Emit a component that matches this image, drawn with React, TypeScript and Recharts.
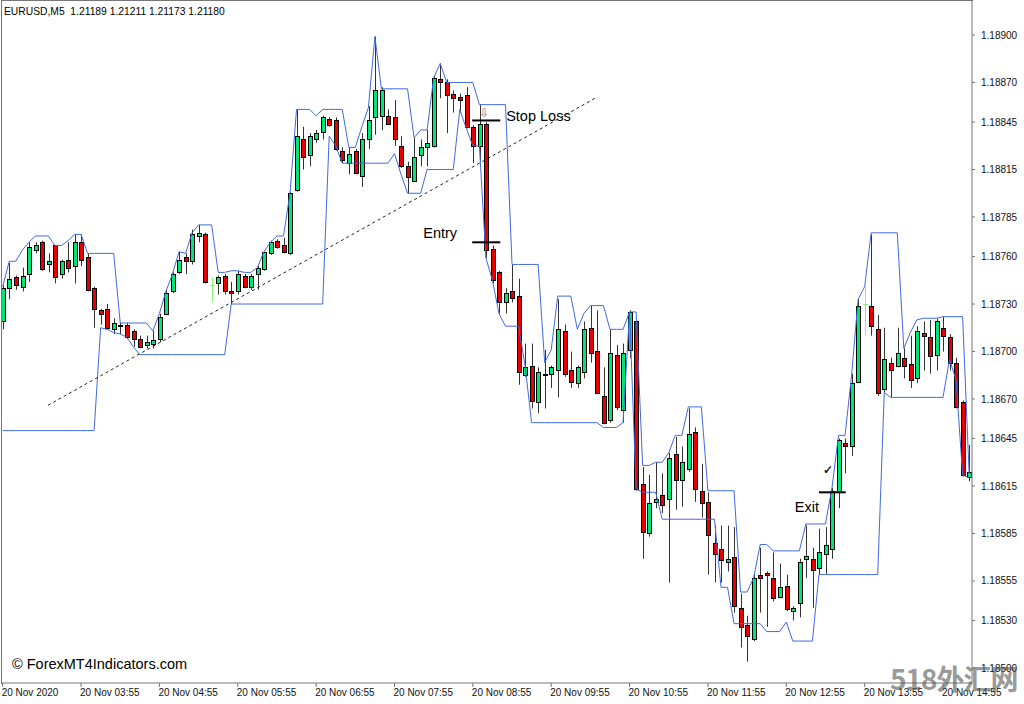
import React from "react";
import { ComposedChart, Bar, Line, XAxis, YAxis, ReferenceLine, ReferenceDot } from "recharts";

const openP = [
  1.18719, 1.1874, 1.18747, 1.18741, 1.18749, 1.18764, 1.18769, 1.18755, 1.18767, 1.18749,
  1.18758, 1.18754, 1.18769, 1.1876, 1.1874, 1.18726, 1.18727, 1.18714, 1.18717, 1.18717,
  1.18713, 1.18708, 1.18704, 1.18705, 1.18708, 1.18724, 1.18738, 1.1875, 1.1876, 1.18757,
  1.18773, 1.18774, 1.18742, 1.18743, 1.18748, 1.18738, 1.18738, 1.18748, 1.18741, 1.18749,
  1.18752, 1.18762, 1.1877, 1.18767, 1.18762, 1.18802, 1.18834, 1.18824, 1.18834, 1.18839,
  1.18847, 1.18846, 1.18827, 1.18819, 1.18827, 1.18811, 1.18834, 1.18848, 1.18849, 1.18849,
  1.18848, 1.1883, 1.18817, 1.18808, 1.18824, 1.18829, 1.1883, 1.18872, 1.1887, 1.18863,
  1.18861, 1.18862, 1.18842, 1.1883, 1.18844, 1.18765, 1.1875, 1.18731, 1.18738, 1.18735,
  1.18685, 1.18691, 1.18668, 1.18686, 1.18686, 1.18688, 1.18713, 1.18688, 1.1868, 1.18687,
  1.18715, 1.187, 1.18672, 1.18657, 1.18698, 1.18663, 1.18701, 1.18719, 1.18616, 1.18585,
  1.18605, 1.18609, 1.18607, 1.18635, 1.18619, 1.18626, 1.18649, 1.18612, 1.18605, 1.18579,
  1.18575, 1.18567, 1.1857, 1.18538, 1.18527, 1.18518, 1.18559, 1.1856, 1.18557, 1.18545,
  1.18552, 1.18536, 1.18541, 1.18569, 1.18569, 1.18563, 1.18572, 1.18575, 1.18611, 1.18642,
  1.1864, 1.18681, 1.1873, 1.18729, 1.18714, 1.18676, 1.18693, 1.18691, 1.18696, 1.18692,
  1.18683, 1.18712, 1.18709, 1.18698, 1.18715, 1.18709, 1.18693, 1.18668, 1.18621,
];

const highP = [
  1.18742, 1.18756, 1.18748, 1.18753, 1.18769, 1.18769, 1.1877, 1.18762, 1.18767, 1.18758,
  1.18769, 1.18774, 1.18774, 1.18762, 1.18741, 1.18727, 1.1873, 1.18721, 1.18718, 1.18718,
  1.18714, 1.1871, 1.1871, 1.18713, 1.18724, 1.18739, 1.1875, 1.18763, 1.18762, 1.18777,
  1.1878, 1.18775, 1.18747, 1.18748, 1.18749, 1.18744, 1.18751, 1.18749, 1.18749, 1.18754,
  1.18763, 1.1877, 1.18771, 1.18772, 1.18801, 1.18853, 1.18842, 1.18838, 1.1884, 1.18849,
  1.18848, 1.18848, 1.18829, 1.18829, 1.18828, 1.18838, 1.18855, 1.18899, 1.18867, 1.18853,
  1.18859, 1.18836, 1.1882, 1.18835, 1.18834, 1.1884, 1.18874, 1.18882, 1.18872, 1.18865,
  1.18863, 1.18867, 1.18843, 1.18856, 1.18845, 1.18767, 1.18751, 1.1874, 1.18755, 1.18746,
  1.18705, 1.18705, 1.1869, 1.18701, 1.18691, 1.18733, 1.18717, 1.187, 1.18691, 1.18719,
  1.18729, 1.18726, 1.1869, 1.18714, 1.18704, 1.18705, 1.18726, 1.1872, 1.18627, 1.18622,
  1.1863, 1.18623, 1.18636, 1.18646, 1.1864, 1.18664, 1.18652, 1.18629, 1.18611, 1.1859,
  1.1859, 1.1859, 1.18589, 1.18547, 1.18533, 1.18559, 1.18576, 1.18561, 1.18573, 1.18566,
  1.18559, 1.18539, 1.18569, 1.1859, 1.18576, 1.18588, 1.18589, 1.18614, 1.18645, 1.18645,
  1.18686, 1.18733, 1.18741, 1.18774, 1.18723, 1.18715, 1.18696, 1.18715, 1.18702, 1.1871,
  1.18716, 1.18719, 1.1872, 1.18721, 1.18722, 1.18711, 1.18696, 1.18669, 1.18641,
];

const lowP = [
  1.18714, 1.18733, 1.18739, 1.18738, 1.18744, 1.18762, 1.18751, 1.1875, 1.18743, 1.18746,
  1.1875, 1.18743, 1.18754, 1.18738, 1.18715, 1.18717, 1.18714, 1.18711, 1.18711, 1.18708,
  1.18703, 1.18702, 1.18702, 1.18702, 1.18706, 1.18723, 1.18737, 1.18749, 1.18749, 1.18755,
  1.18769, 1.18743, 1.18731, 1.18736, 1.18736, 1.1873, 1.18736, 1.1874, 1.18739, 1.18739,
  1.18751, 1.18761, 1.18765, 1.18762, 1.18761, 1.18801, 1.18815, 1.18817, 1.18832, 1.18834,
  1.18842, 1.18827, 1.18819, 1.18812, 1.18812, 1.18804, 1.18828, 1.18837, 1.1884, 1.18843,
  1.1883, 1.18816, 1.188, 1.18807, 1.18817, 1.18817, 1.18829, 1.1886, 1.18838, 1.18851,
  1.18851, 1.18841, 1.18819, 1.1882, 1.18759, 1.18743, 1.18724, 1.18724, 1.18731, 1.18679,
  1.18684, 1.18664, 1.18661, 1.18664, 1.18677, 1.18671, 1.18684, 1.18677, 1.18677, 1.18683,
  1.18693, 1.18673, 1.18654, 1.18655, 1.18663, 1.18655, 1.18696, 1.18612, 1.18569, 1.18583,
  1.18601, 1.18598, 1.18554, 1.186, 1.18602, 1.18624, 1.18605, 1.18595, 1.18559, 1.18554,
  1.18554, 1.18561, 1.18535, 1.18513, 1.18504, 1.18517, 1.18535, 1.18526, 1.18542, 1.18544,
  1.18536, 1.1853, 1.18532, 1.18557, 1.18538, 1.18559, 1.18559, 1.18569, 1.18601, 1.18623,
  1.18634, 1.1868, 1.1871, 1.1871, 1.18672, 1.18674, 1.18671, 1.1869, 1.18683, 1.18677,
  1.1868, 1.18688, 1.18686, 1.18688, 1.187, 1.18688, 1.18664, 1.18621, 1.18618,
];

const closeP = [
  1.1874, 1.18746, 1.18742, 1.18748, 1.18766, 1.18767, 1.18752, 1.18757, 1.18747, 1.18757,
  1.18753, 1.18769, 1.18758, 1.18739, 1.18727, 1.18724, 1.18715, 1.18718, 1.18716, 1.18709,
  1.18708, 1.18703, 1.18706, 1.18707, 1.18722, 1.18737, 1.18749, 1.18758, 1.18757, 1.18774,
  1.18775, 1.18744, 1.18742, 1.18747, 1.18738, 1.18737, 1.18749, 1.18741, 1.18748, 1.18753,
  1.18763, 1.18769, 1.18766, 1.18763, 1.188, 1.18836, 1.18823, 1.18836, 1.18838, 1.18848,
  1.18843, 1.18828, 1.18821, 1.18825, 1.18813, 1.18834, 1.18846, 1.18865, 1.18865, 1.18844,
  1.18834, 1.18817, 1.1881, 1.18823, 1.18829, 1.18832, 1.18873, 1.1887, 1.18862, 1.1886,
  1.18859, 1.18842, 1.1883, 1.18844, 1.18764, 1.18745, 1.18731, 1.18737, 1.18734, 1.18687,
  1.1869, 1.18669, 1.18687, 1.18685, 1.1869, 1.18714, 1.18686, 1.18681, 1.1869, 1.18714,
  1.18699, 1.18674, 1.18655, 1.18699, 1.18665, 1.18699, 1.18725, 1.18613, 1.18586, 1.18604,
  1.18607, 1.18603, 1.18633, 1.18619, 1.1863, 1.18648, 1.18613, 1.18604, 1.18584, 1.18572,
  1.18568, 1.18569, 1.18539, 1.18526, 1.1852, 1.18557, 1.18557, 1.18559, 1.18544, 1.18551,
  1.18537, 1.18538, 1.18567, 1.18571, 1.18562, 1.18573, 1.18578, 1.18612, 1.18644, 1.1864,
  1.1868, 1.18729, 1.1873, 1.18716, 1.18674, 1.18695, 1.18688, 1.18699, 1.18691, 1.18682,
  1.18713, 1.1871, 1.18697, 1.18719, 1.1871, 1.18693, 1.18665, 1.18622, 1.18624,
];

const upperBand = [
  1.18741, 1.18757, 1.18757, 1.18764, 1.18769, 1.18773, 1.18773, 1.18773, 1.18767, 1.18767,
  1.1877, 1.18774, 1.18774, 1.18762, 1.18762, 1.18762, 1.18762, 1.18762, 1.18718, 1.18718,
  1.18718, 1.18718, 1.18718, 1.18713, 1.18724, 1.18738, 1.18749, 1.18763, 1.18762, 1.18775,
  1.1878, 1.1878, 1.1878, 1.1875, 1.1875, 1.18751, 1.18751, 1.1875, 1.1875, 1.18753,
  1.18763, 1.18769, 1.18773, 1.18773, 1.188, 1.18853, 1.18853, 1.18853, 1.18849, 1.18853,
  1.18853, 1.18853, 1.18853, 1.18829, 1.18829, 1.18842, 1.18854, 1.18899, 1.18866, 1.18866,
  1.18866, 1.18866, 1.18866, 1.18835, 1.1884, 1.1884, 1.18873, 1.18882, 1.1887, 1.1887,
  1.1887, 1.1887, 1.1887, 1.18856, 1.18856, 1.18856, 1.18856, 1.18856, 1.18755, 1.18755,
  1.18755, 1.18755, 1.18755, 1.18693, 1.18701, 1.18735, 1.18735, 1.18735, 1.18714, 1.18724,
  1.18729, 1.18729, 1.18729, 1.18714, 1.18714, 1.18714, 1.18725, 1.18725, 1.18628, 1.18628,
  1.1863, 1.1863, 1.18636, 1.18647, 1.18647, 1.18665, 1.18665, 1.18665, 1.18612, 1.18612,
  1.18612, 1.18612, 1.18612, 1.18548, 1.18548, 1.18557, 1.18578, 1.18578, 1.18574, 1.18574,
  1.18574, 1.18574, 1.18574, 1.18591, 1.18591, 1.18591, 1.18591, 1.18614, 1.18647, 1.18647,
  1.18685, 1.18733, 1.18741, 1.18775, 1.18775, 1.18775, 1.18775, 1.18775, 1.18702, 1.18712,
  1.1872, 1.18721, 1.18721, 1.18721, 1.18722, 1.18722, 1.18722, 1.18722, 1.18623,
];

const lowerBand = [
  1.1865, 1.1865, 1.1865, 1.1865, 1.1865, 1.1865, 1.1865, 1.1865, 1.1865, 1.1865,
  1.1865, 1.1865, 1.1865, 1.1865, 1.1865, 1.18715, 1.18714, 1.18712, 1.18711, 1.18709,
  1.18703, 1.18698, 1.18698, 1.18698, 1.18698, 1.18698, 1.18698, 1.18698, 1.18698, 1.18698,
  1.18698, 1.18698, 1.18698, 1.18698, 1.18698, 1.1873, 1.1873, 1.1873, 1.1873, 1.1873,
  1.1873, 1.1873, 1.1873, 1.1873, 1.1873, 1.1873, 1.1873, 1.1873, 1.1873, 1.1873,
  1.18836, 1.1883, 1.18819, 1.18819, 1.18819, 1.18819, 1.18819, 1.18819, 1.18819, 1.18819,
  1.18825, 1.18812, 1.188, 1.188, 1.188, 1.18815, 1.18815, 1.18815, 1.18815, 1.18815,
  1.18853, 1.18841, 1.1883, 1.1883, 1.18759, 1.18745, 1.18724, 1.18716, 1.18716, 1.18716,
  1.18691, 1.18655, 1.18655, 1.18655, 1.18655, 1.18655, 1.18655, 1.18655, 1.18655, 1.18655,
  1.18655, 1.18655, 1.18652, 1.18652, 1.18652, 1.18655, 1.18725, 1.18613, 1.18611, 1.18611,
  1.18611, 1.18594, 1.18594, 1.18594, 1.18594, 1.18594, 1.18594, 1.18594, 1.18594, 1.18594,
  1.18551, 1.18551, 1.18528, 1.18528, 1.18528, 1.18528, 1.18528, 1.18523, 1.18523, 1.18523,
  1.18529, 1.18517, 1.18517, 1.18517, 1.18517, 1.18559, 1.18559, 1.18559, 1.18559, 1.18559,
  1.18559, 1.18559, 1.18559, 1.18559, 1.18559, 1.18674, 1.18671, 1.18671, 1.18671, 1.18671,
  1.18671, 1.18671, 1.18671, 1.18671, 1.18671, 1.18695, 1.18682, 1.18622, 1.1862,
];

const timeTickBars = [0, 12, 24, 36, 48, 60, 72, 84, 96, 108, 120, 132, 144];
const timeTickLabels = [
  "20 Nov 2020", "20 Nov 03:55", "20 Nov 04:55", "20 Nov 05:55", "20 Nov 06:55",
  "20 Nov 07:55", "20 Nov 08:55", "20 Nov 09:55", "20 Nov 10:55", "20 Nov 11:55",
  "20 Nov 12:55", "20 Nov 13:55", "20 Nov 14:55",
];
const priceTicks = [
  1.189, 1.1887, 1.18845, 1.18815, 1.18785, 1.1876, 1.1873, 1.187,
  1.1867, 1.18645, 1.18615, 1.18585, 1.18555, 1.1853, 1.185,
];

const trendLine = [
  { bar: 6.94, price: 1.18666 },
  { bar: 90.7, price: 1.1886 },
];
const stopLossLevel = { from: 71.9, to: 76.2, price: 1.18846 };
const entryLevel = { from: 71.9, to: 76.2, price: 1.18769 };
const exitLevel = { from: 125.0, to: 129.1, price: 1.18611 };

const annotations = [
  { text: "Stop Loss", bar: 77.1, price: 1.18849 },
  { text: "Entry", bar: 64.4, price: 1.18775 },
  { text: "Exit", bar: 121.3, price: 1.18602 },
];
const stopArrow = { bar: 73.7, price: 1.18851 };
const exitCheck = { bar: 126.4, price: 1.18625 };

const data = openP.map((o, i) => ({
  i,
  o,
  h: highP[i],
  l: lowP[i],
  c: closeP[i],
  range: [lowP[i], highP[i]],
  up: upperBand[i],
  lo: lowerBand[i],
}));

const GREEN = "#00E676";
const RED = "#E60000";
const DOJI = "#7CFC6A";
const WICK = "#333333";
const BLUE = "#4169E1";
const FONT = "'Liberation Sans', Arial, sans-serif";

const Candle = (props: any) => {
  const { x, y, width, height, payload } = props;
  if (!payload) return null;
  const { o, h, l, c } = payload;
  const yTop = Math.min(y, y + height);
  const hgt = Math.abs(height);
  const cx = Math.round(x + width / 2);
  const span = h - l;
  const pix = (v: number) => (span === 0 ? yTop : yTop + ((h - v) / span) * hgt);
  if (o === c) {
    const yy = Math.round(pix(o)) + 0.5;
    return (
      <g>
        <line x1={cx + 0.5} x2={cx + 0.5} y1={yTop} y2={yTop + hgt} stroke={DOJI} strokeWidth={1} />
        <line x1={cx - 2} x2={cx + 3} y1={yy} y2={yy} stroke={DOJI} strokeWidth={1} />
      </g>
    );
  }
  const yo = pix(o);
  const yc = pix(c);
  const top = Math.round(Math.min(yo, yc)) + 0.5;
  const bot = Math.round(Math.max(yo, yc)) + 0.5;
  const fill = c > o ? GREEN : RED;
  return (
    <g>
      <line x1={cx + 0.5} x2={cx + 0.5} y1={yTop} y2={yTop + hgt} stroke={WICK} strokeWidth={1} />
      <rect
        x={cx - 1.5}
        y={top}
        width={4}
        height={Math.max(bot - top, 1)}
        fill={fill}
        stroke="#000"
        strokeWidth={1}
      />
    </g>
  );
};

const TimeTick = (props: any) => {
  const { x, y, payload } = props;
  const idx = timeTickBars.indexOf(payload.value);
  return (
    <text x={x - 1} y={y} dy="0.71em" textAnchor="start" fontSize={10} fontFamily={FONT} fill="#111">
      {idx >= 0 ? timeTickLabels[idx] : ""}
    </text>
  );
};

const textShape = (label: string, size: number, color: string, anchor: string, weight = 400) => (p: any) => (
  <text
    x={p.cx}
    y={p.cy}
    dominantBaseline="central"
    textAnchor={anchor}
    fontSize={size}
    fontWeight={weight}
    fontFamily={FONT}
    fill={color}
  >
    {label}
  </text>
);

export default function App() {
  return (
    <div style={{ position: "absolute", left: 0, top: 0, width: 1024, height: 704, background: "#fff", overflow: "hidden" }}>
      <ComposedChart
        width={1024}
        height={704}
        data={data}
        margin={{ top: 1, right: 0, left: 1, bottom: 0 }}
      >
        <XAxis
          dataKey="i"
          type="number"
          domain={[-0.26, 148.44]}
          ticks={timeTickBars}
          tick={<TimeTick />}
          tickSize={4}
          tickMargin={2}
          height={21}
          axisLine={{ stroke: "#777" }}
          tickLine={{ stroke: "#777" }}
          interval={0}
        />
        <YAxis
          orientation="right"
          type="number"
          domain={[1.184905, 1.189215]}
          ticks={priceTicks}
          interval={0}
          width={52}
          tickSize={3}
          tickMargin={6}
          tickFormatter={(v: number) => v.toFixed(5)}
          tick={{ fontSize: 10, fontFamily: FONT, fill: "#111" }}
          axisLine={{ stroke: "#777" }}
          tickLine={{ stroke: "#777" }}
        />
        <Bar dataKey="range" barSize={5} shape={<Candle />} isAnimationActive={false} />
        <Line type="linear" dataKey="up" stroke={BLUE} strokeWidth={1} dot={false} activeDot={false} isAnimationActive={false} />
        <Line type="linear" dataKey="lo" stroke={BLUE} strokeWidth={1} dot={false} activeDot={false} isAnimationActive={false} />
        <ReferenceLine
          segment={[
            { x: trendLine[0].bar, y: trendLine[0].price },
            { x: trendLine[1].bar, y: trendLine[1].price },
          ]}
          stroke="#222"
          strokeWidth={1}
          strokeDasharray="3 3"
        />
        {[stopLossLevel, entryLevel, exitLevel].map((lv, k) => (
          <ReferenceLine
            key={k}
            segment={[
              { x: lv.from, y: lv.price },
              { x: lv.to, y: lv.price },
            ]}
            stroke="#000"
            strokeWidth={2}
          />
        ))}
        {annotations.map((a, k) => (
          <ReferenceDot key={k} x={a.bar} y={a.price} r={0} shape={textShape(a.text, 14.5, "#000", "start")} />
        ))}
        <ReferenceDot x={stopArrow.bar} y={stopArrow.price} r={0} shape={textShape("⇩", 12, "#777", "middle")} />
        <ReferenceDot x={exitCheck.bar} y={exitCheck.price} r={0} shape={textShape("✓", 12, "#222", "middle", 700)} />
      </ComposedChart>
      <div style={{ position: "absolute", left: 1, top: 0, width: 1, height: 684, background: "#777" }} />
      <div style={{ position: "absolute", left: 1, top: 0, width: 972, height: 1, background: "#777" }} />
      <div style={{ position: "absolute", left: 4, top: 6, fontFamily: FONT, fontSize: 10.3, color: "#000", whiteSpace: "pre", lineHeight: "12px" }}>
        {"EURUSD,M5  1.21189 1.21211 1.21173 1.21180"}
      </div>
      <div style={{ position: "absolute", left: 12, top: 656, fontFamily: FONT, fontSize: 14.5, color: "#000", whiteSpace: "pre", lineHeight: "17px" }}>
        {"© ForexMT4Indicators.com"}
      </div>
      <div style={{ position: "absolute", left: 890, top: 660, fontFamily: "'Noto Sans CJK SC', sans-serif", fontWeight: 700, fontSize: 28, color: "rgba(85,85,85,0.62)", whiteSpace: "pre", lineHeight: "36px", letterSpacing: -1 }}>
        {"518外汇网"}
      </div>
    </div>
  );
}
